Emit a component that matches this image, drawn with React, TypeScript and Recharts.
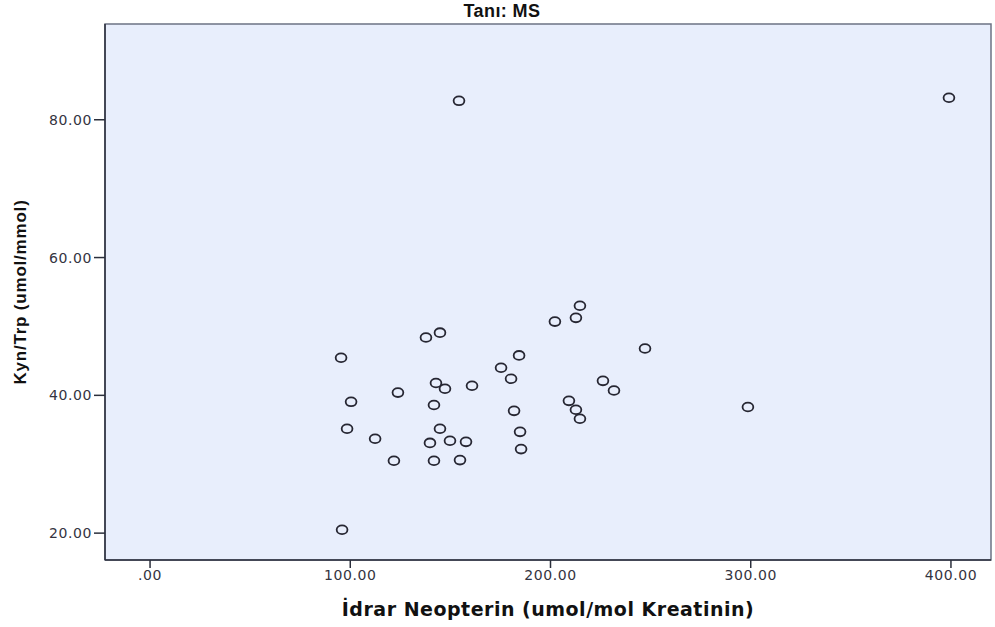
import React from 'react';
import { ScatterChart, Scatter, XAxis, YAxis, ReferenceArea } from 'recharts';

// İdrar Neopterin (x) vs Kyn/Trp (y)
const neopterin = [
  154.3, 399.0, 95.4, 137.8, 144.8, 202.2, 212.7, 214.7, 247.2, 184.3,
  175.3, 180.3, 160.8, 142.8, 147.3, 123.8, 100.4, 141.8, 181.8, 209.2,
  212.7, 214.7, 226.2, 231.7, 298.6, 98.4, 112.4, 144.8, 139.8, 149.8,
  157.8, 184.8, 185.3, 121.8, 141.8, 154.8, 95.9,
];
const kynTrp = [
  82.75, 83.2, 45.45, 48.4, 49.1, 50.7, 51.25, 53.0, 46.8, 45.8,
  44.0, 42.4, 41.4, 41.8, 40.96, 40.4, 39.06, 38.6, 37.75, 39.2,
  37.9, 36.6, 42.1, 40.7, 38.3, 35.15, 33.7, 35.15, 33.1, 33.4,
  33.25, 34.7, 32.2, 30.5, 30.5, 30.6, 20.5,
];
const xTicks = [0, 100, 200, 300, 400];
const yTicks = [20, 40, 60, 80];

const xDomain: [number, number] = [-22.5, 420];
const yDomain: [number, number] = [16.1, 93.9];

const points = neopterin.map((x, i) => ({ x, y: kynTrp[i] }));

const fmt = (v: number) => (v === 0 ? '.00' : v.toFixed(2));

const axisColor = '#2b2f3c';
const tickStyle = { fontFamily: 'DejaVu Sans', fontSize: 14, fill: '#34343f', letterSpacing: 0.6 };

const Ring = (props: any) => {
  const { cx, cy } = props;
  if (cx == null || cy == null) return null;
  return <ellipse cx={cx} cy={cy} rx={5.4} ry={4.4} fill="none" stroke="#262632" strokeWidth={1.8} />;
};

const App: React.FC = () => {
  return (
    <div style={{ position: 'absolute', left: 0, top: 0, width: 995, height: 627, background: 'white' }}>
      <div
        style={{
          position: 'absolute',
          left: 6,
          top: 0,
          width: 992,
          textAlign: 'center',
          fontFamily: 'Liberation Sans',
          fontWeight: 'bold',
          fontSize: 18,
          letterSpacing: 0.4,
          lineHeight: '22px',
          color: '#111',
        }}
      >
        Tanı: MS
      </div>
      <ScatterChart width={995} height={627} margin={{ top: 24, right: 4, bottom: 0, left: 0 }}>
        <ReferenceArea
          x1={xDomain[0]}
          x2={xDomain[1]}
          y1={yDomain[0]}
          y2={yDomain[1]}
          fill="#e8eefc"
          fillOpacity={1}
          stroke="#6c7384"
          strokeWidth={1.5}
        />
        <XAxis
          type="number"
          dataKey="x"
          domain={xDomain}
          ticks={xTicks}
          tickFormatter={fmt}
          height={67}
          tickSize={8}
          stroke={axisColor}
          strokeWidth={1.5}
          tick={tickStyle}
          label={{
            value: 'İdrar Neopterin (umol/mol Kreatinin)',
            position: 'insideBottom',
            offset: 11,
            style: { fontFamily: 'DejaVu Sans', fontWeight: 'bold', fontSize: 19, letterSpacing: 0.5, fill: '#111' },
          }}
        />
        <YAxis
          type="number"
          dataKey="y"
          domain={yDomain}
          ticks={yTicks}
          tickFormatter={fmt}
          width={105}
          tickSize={11}
          stroke={axisColor}
          strokeWidth={1.5}
          tick={tickStyle}
          label={{
            content: ({ viewBox }: any) => {
              const cy = viewBox.y + viewBox.height / 2;
              return (
                <text
                  x={26}
                  y={cy}
                  transform={`rotate(-90 26 ${cy})`}
                  textAnchor="middle"
                  fontFamily="Liberation Sans"
                  fontWeight="bold"
                  fontSize={17}
                  letterSpacing={0.8}
                  fill="#111"
                >
                  Kyn/Trp (umol/mmol)
                </text>
              );
            },
          }}
        />
        <Scatter data={points} shape={Ring} isAnimationActive={false} />
      </ScatterChart>
    </div>
  );
};

export default App;
